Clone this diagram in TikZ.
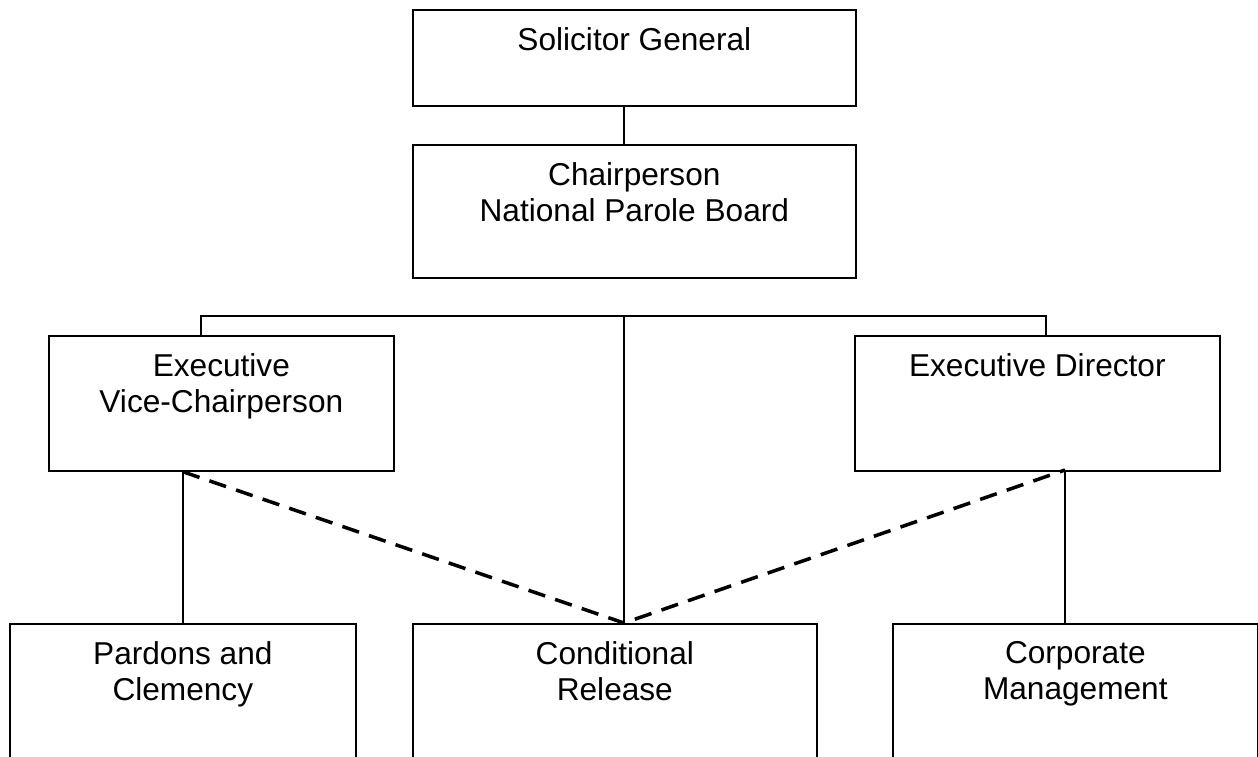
\documentclass[tikz,border=0pt]{standalone}
\usepackage{fontspec}
\setmainfont{Liberation Sans}
\begin{document}
\begin{tikzpicture}[x=0.02cm,y=-0.02cm,
        unit/.style={draw,line width=1pt,rectangle,inner sep=0pt,anchor=north west},
        caption/.style={anchor=north,align=center,inner sep=0pt,yshift=-0.36cm,font=\fontsize{18pt}{20.5pt}\selectfont},
        link/.style={line width=0.9pt},
        dashlink/.style={line width=2pt,dash pattern=on 10pt off 6pt}]
        %% Page
        \clip (0,0) rectangle (1258,757);
        %% Top
        \node[unit,minimum width=8.86cm,minimum height=1.92cm,label={[caption]north:Solicitor General}] (sg) at (412,9) {};
        \node[unit,minimum width=8.86cm,minimum height=2.66cm,label={[caption]north:Chairperson\\National Parole Board}] (cp) at (412,144) {};
        %% Middle
        \node[unit,minimum width=6.9cm,minimum height=2.7cm,label={[caption]north:Executive\\Vice-Chairperson}] (evc) at (48,335) {};
        \node[unit,minimum width=7.3cm,minimum height=2.7cm,label={[caption]north:Executive Director}] (ed) at (854,335) {};
        %% Bottom
        \node[unit,minimum width=6.92cm,minimum height=2.8cm,label={[caption]north:Pardons and\\Clemency}] (pc) at (9,623) {};
        \node[unit,minimum width=8.08cm,minimum height=2.8cm,label={[caption]north:Conditional\\Release}] (cr) at (412,623) {};
        \node[unit,minimum width=7.3cm,minimum height=2.8cm,label={[caption]north:Corporate\\Management}] (cm) at (892,623) {};
        %% Lines
        \coordinate (spine) at (624,316);
        \coordinate (busl) at (201,316);
        \coordinate (busr) at (1046,316);
        \coordinate (evcfoot) at (pc.north |- evc.south);
        \coordinate (edfoot) at (1065,470);
        \draw[link] (sg.south -| spine) -- (cp.north -| spine);
        \draw[link] (evc.north -| busl) -- (busl) -- (busr) -- (ed.north -| busr);
        \draw[link] (spine) -- (cr.north -| spine);
        \draw[link] (evcfoot) -- (pc.north);
        \draw[link] (edfoot) -- (cm.north -| edfoot);
        \draw[dashlink] (evcfoot) -- (cr.north -| spine) -- (edfoot);
    \end{tikzpicture}
\end{document}
